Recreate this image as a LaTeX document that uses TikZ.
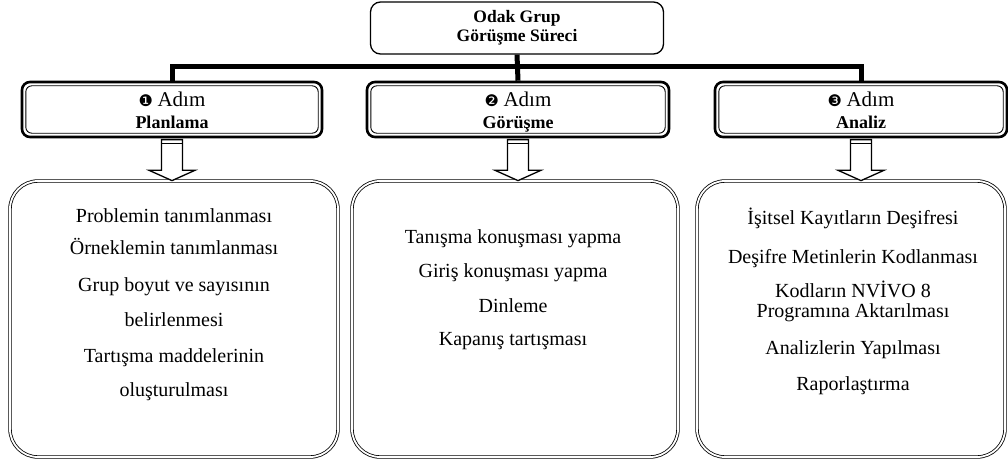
\documentclass[tikz,border=0pt]{standalone}
\usepackage{fontspec}
\setmainfont{Liberation Serif}
\newfontfamily\dingfont{DejaVu Sans}
\usetikzlibrary{positioning,calc}

\begin{document}
\begin{tikzpicture}[x=1pt,y=-1pt,
    anabaslik/.style={draw, line width=1.3pt, rounded corners=10pt, minimum width=293pt, minimum height=52pt,
      align=center, font=\fontsize{17.5}{19}\selectfont\bfseries},
    adimkutu/.style={draw, line width=2.6pt, rounded corners=8pt, minimum height=55pt, align=center,
      font=\fontsize{18}{22}\selectfont,
      path picture={\draw[line width=0.9pt, rounded corners=6pt]
        ([shift={(3.8pt,-3.8pt)}]path picture bounding box.north west) rectangle
        ([shift={(-3.8pt,3.8pt)}]path picture bounding box.south east);}},
    icerik/.style={draw, double, double distance=1.8pt, line width=0.8pt, rounded corners=28pt, minimum height=276pt},
    metin/.style={align=center, inner sep=0pt, font=\fontsize{20}{24}\selectfont},
    bag/.style={line width=5pt},
    blokok/.style={draw, line width=1.3pt, fill=white, line join=miter}]

  \useasboundingbox (0,0) rectangle (1008,468);

  % ust baslik
  \node[anabaslik] (odak) at (517,28) {Odak Grup\\Görüşme Süreci};

  % adimlar
  \node[adimkutu, minimum width=300pt] (adim1) at (172,109.5)
    {\strut{\dingfont\fontsize{16}{16}\selectfont ❶}~{\fontsize{21}{22}\selectfont Adım}\\\smash{\textbf{Planlama}}};
  \node[adimkutu, minimum width=302pt] (adim2) at (518,109.5)
    {\strut{\dingfont\fontsize{16}{16}\selectfont ❷}~{\fontsize{21}{22}\selectfont Adım}\\\smash{\textbf{Görüşme}}};
  \node[adimkutu, minimum width=292pt] (adim3) at (861,109.5)
    {\strut{\dingfont\fontsize{16}{16}\selectfont ❸}~{\fontsize{21}{22}\selectfont Adım}\\\smash{\textbf{Analiz}}};

  % baglanti cizgileri
  \draw[bag] (odak.south) -- (adim2.north);
  \draw[bag] (adim1.north) -- ++(0,-14) -| (adim3.north);

  % icerik kutulari
  \node[icerik, minimum width=328pt] (kutu1) at (174,319) {};
  \node[icerik, minimum width=326pt] (kutu2) at (515,319) {};
  \node[icerik, minimum width=308pt] (kutu3) at (851,319) {};

  % blok oklar
  \foreach \i in {1,2,3} {
    \draw[blokok] ($(adim\i.south)+(-10.5,1.3)$) -- ++(0,30.7) -- ++(-12.5,0)
      -- (adim\i.south |- kutu\i.north) -- ($(adim\i.south)+(23,32)$) -- ++(-12.5,0) -- ++(0,-30.7) -- cycle;
    \draw[line width=1.1pt] ($(adim\i.south)+(-10.5,5.5)$) -- ++(21,0);
  }

  \node[metin, below=28pt of kutu1.north] (liste1) {Problemin tanımlanması\\[8pt]
    Örneklemin tanımlanması\\[13pt]
    Grup boyut ve sayısının\\[11pt]
    belirlenmesi\\[12pt]
    Tartışma maddelerinin\\[10pt]
    oluşturulması};
  \node[metin, below=49pt of kutu2.north, xshift=-2pt] (liste2) {Tanışma konuşması yapma\\[10pt]
    Giriş konuşması yapma\\[11pt]
    Dinleme\\[9pt]
    Kapanış tartışması};
  \node[metin, below=27pt of kutu3.north, xshift=2pt] (liste3) {İşitsel Kayıtların Deşifresi\\[15pt]
    Deşifre Metinlerin Kodlanması\\[10pt]
    Kodların NVİVO 8\\[-4pt]
    Programına Aktarılması\\[13pt]
    Analizlerin Yapılması\\[12pt]
    Raporlaştırma};

\end{tikzpicture}
\end{document}
